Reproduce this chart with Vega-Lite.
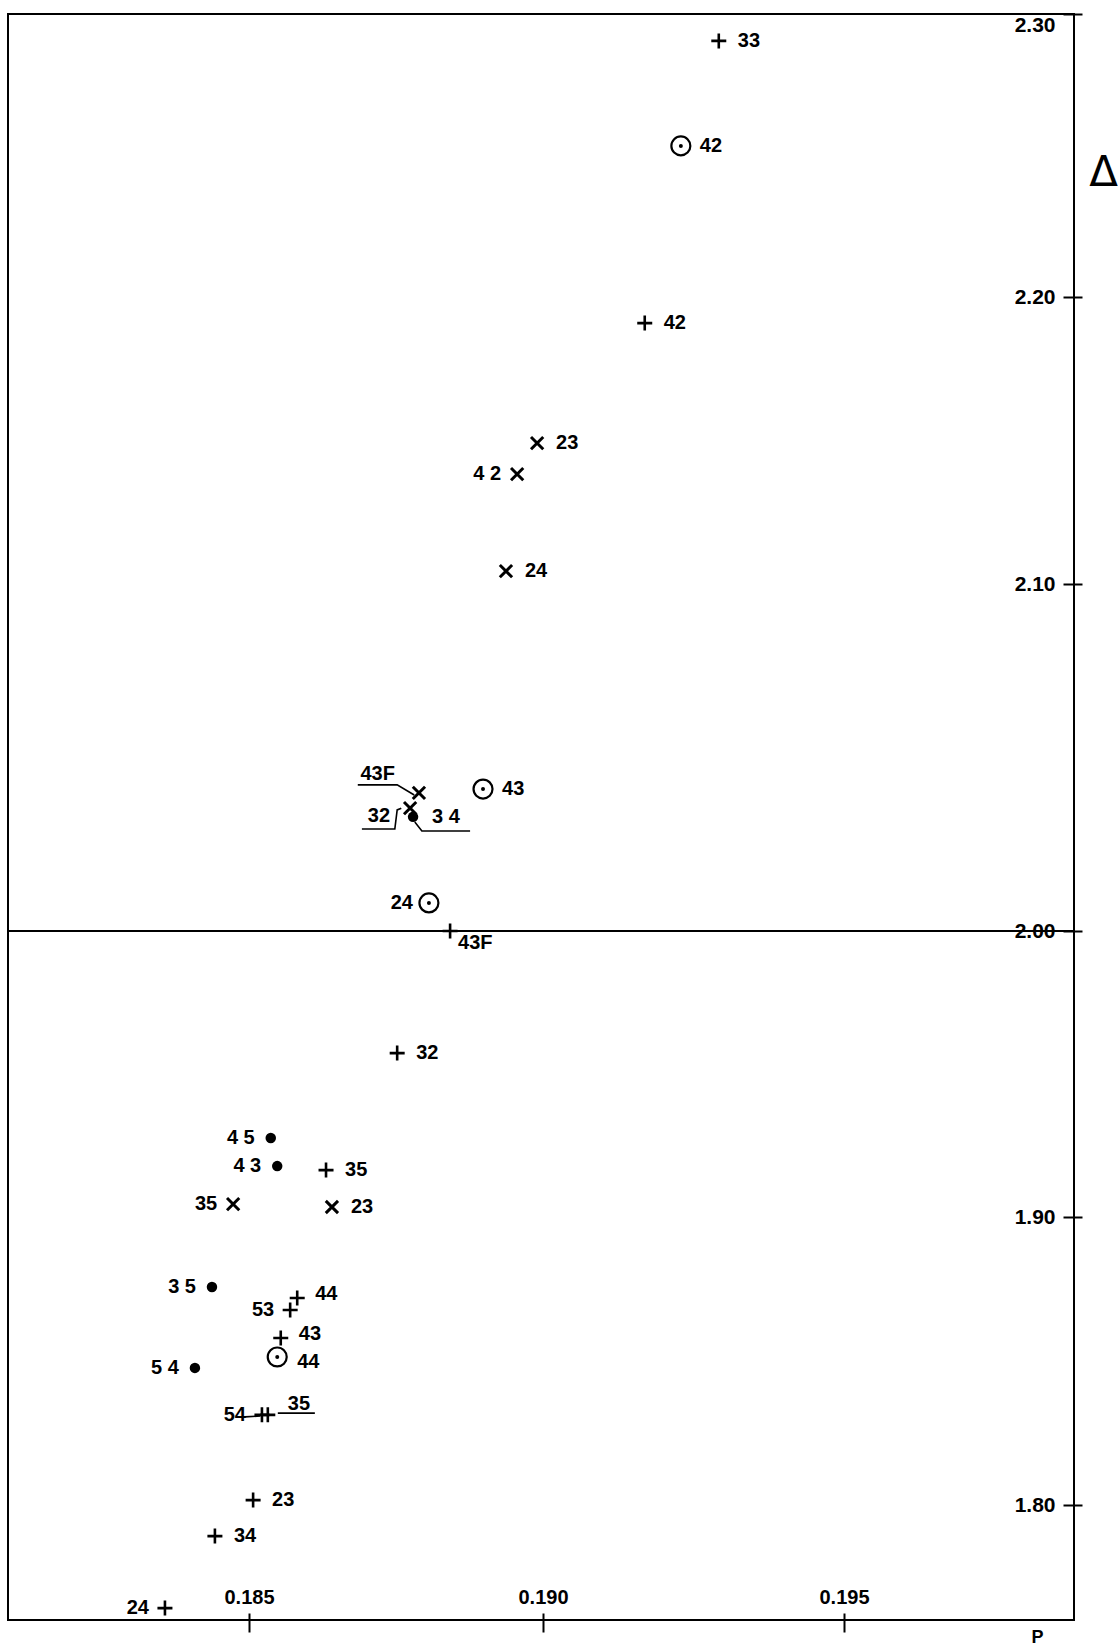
{
  "$schema": "https://vega.github.io/schema/vega-lite/v6.json",
  "width": 1066,
  "height": 1606,
  "autosize": "none",
  "padding": {"left": 8, "top": 14, "right": 44, "bottom": 28},
  "background": "white",
  "config": {
    "view": {"stroke": "black", "strokeWidth": 2},
    "text": {"font": "Liberation Sans", "fontWeight": "bold", "fontSize": 20, "color": "black", "baseline": "middle"}
  },
  "datasets": {
    "points": [
      {"P": 0.19292, "D": 2.2905, "symbol": "plus", "label": "33", "side": "right"},
      {"P": 0.19229, "D": 2.2534, "symbol": "circle", "label": "42", "side": "right"},
      {"P": 0.19169, "D": 2.1909, "symbol": "plus", "label": "42", "side": "right"},
      {"P": 0.18990, "D": 2.1491, "symbol": "cross", "label": "23", "side": "right"},
      {"P": 0.18956, "D": 2.1383, "symbol": "cross", "label": "4 2", "side": "left"},
      {"P": 0.18937, "D": 2.1045, "symbol": "cross", "label": "24", "side": "right"},
      {"P": 0.18789, "D": 2.0398, "symbol": "cross", "label": "43F", "side": "ul"},
      {"P": 0.18774, "D": 2.0354, "symbol": "cross", "label": "32", "side": "leftlow"},
      {"P": 0.18779, "D": 2.0329, "symbol": "dot", "label": "3 4", "side": "right"},
      {"P": 0.18898, "D": 2.0409, "symbol": "circle", "label": "43", "side": "right"},
      {"P": 0.18806, "D": 2.0081, "symbol": "circle", "label": "24", "side": "left"},
      {"P": 0.18842, "D": 2.0000, "symbol": "plus", "label": "43F", "side": "lr"},
      {"P": 0.18752, "D": 1.9573, "symbol": "plus", "label": "32", "side": "right"},
      {"P": 0.18537, "D": 1.9276, "symbol": "dot", "label": "4 5", "side": "left"},
      {"P": 0.18548, "D": 1.9178, "symbol": "dot", "label": "4 3", "side": "left"},
      {"P": 0.18631, "D": 1.9164, "symbol": "plus", "label": "35", "side": "right"},
      {"P": 0.18473, "D": 1.9045, "symbol": "cross", "label": "35", "side": "left"},
      {"P": 0.18641, "D": 1.9035, "symbol": "cross", "label": "23", "side": "right"},
      {"P": 0.18437, "D": 1.8757, "symbol": "dot", "label": "3 5", "side": "left"},
      {"P": 0.18582, "D": 1.8719, "symbol": "plus", "label": "44", "side": "rightup"},
      {"P": 0.18570, "D": 1.8677, "symbol": "plus", "label": "53", "side": "left"},
      {"P": 0.18554, "D": 1.8580, "symbol": "plus", "label": "43", "side": "rightup"},
      {"P": 0.18548, "D": 1.8514, "symbol": "circle", "label": "44", "side": "rightdown"},
      {"P": 0.18408, "D": 1.8476, "symbol": "dot", "label": "5 4", "side": "left"},
      {"P": 0.18522, "D": 1.8313, "symbol": "plus", "label": "54", "side": "left"},
      {"P": 0.18532, "D": 1.8313, "symbol": "plus", "label": "35", "side": "ur"},
      {"P": 0.18507, "D": 1.8017, "symbol": "plus", "label": "23", "side": "right"},
      {"P": 0.18442, "D": 1.7892, "symbol": "plus", "label": "34", "side": "right"},
      {"P": 0.18357, "D": 1.7642, "symbol": "plus", "label": "24", "side": "left"}
    ],
    "leaders": [
      {"id": "43F", "k": 1, "P": 0.18685, "D": 2.0421},
      {"id": "43F", "k": 2, "P": 0.18752, "D": 2.0421},
      {"id": "43F", "k": 3, "P": 0.18781, "D": 2.0392},
      {"id": "32", "k": 1, "P": 0.18692, "D": 2.0294},
      {"id": "32", "k": 2, "P": 0.18748, "D": 2.0294},
      {"id": "32", "k": 3, "P": 0.18752, "D": 2.0349},
      {"id": "32", "k": 4, "P": 0.18759, "D": 2.0354},
      {"id": "34", "k": 1, "P": 0.18782, "D": 2.0314},
      {"id": "34", "k": 2, "P": 0.18794, "D": 2.0288},
      {"id": "34", "k": 3, "P": 0.18876, "D": 2.0288},
      {"id": "35", "k": 1, "P": 0.18549, "D": 1.8319},
      {"id": "35", "k": 2, "P": 0.18612, "D": 1.8319},
      {"id": "54", "k": 1, "P": 0.18493, "D": 1.8306},
      {"id": "54", "k": 2, "P": 0.18519, "D": 1.8309}
    ],
    "zero": [
      {"P": 0.18090, "D": 2.0},
      {"P": 0.19882, "D": 2.0}
    ]
  },
  "encoding": {
    "x": {
      "field": "P", "type": "quantitative",
      "scale": {"domain": [0.18090, 0.185, 0.19, 0.195, 0.19882], "range": [0, 241, 535, 836, 1066], "zero": false, "nice": false},
      "axis": {
        "title": "P", "values": [0.185, 0.19, 0.195], "format": ".3f",
        "domain": false, "grid": false, "offset": -7, "tickSize": 19, "tickColor": "black", "tickWidth": 2,
        "labelPadding": -29, "labelBaseline": "alphabetic", "labelFont": "Liberation Sans", "labelFontWeight": "bold",
        "labelFontSize": 20, "labelColor": "black", "labelFlush": false,
        "titleX": 1029, "titleY": 24, "titleAlign": "center", "titleBaseline": "middle", "titleAnchor": null,
        "titleFont": "Liberation Sans", "titleFontSize": 18, "titleFontWeight": "bold", "titleColor": "black"
      }
    },
    "y": {
      "field": "D", "type": "quantitative",
      "scale": {"domain": [1.76007, 1.8, 1.9, 2.0, 2.1, 2.2, 2.3], "range": [1606, 1491, 1203, 917, 570, 283, 0], "zero": false, "nice": false},
      "axis": {
        "orient": "right", "title": "Δ", "values": [1.8, 1.9, 2.0, 2.1, 2.2, 2.3], "format": ".2f",
        "domain": false, "grid": false, "offset": -11, "tickSize": 19, "tickColor": "black", "tickWidth": 2,
        "labelPadding": -27, "labelAlign": "right", "labelFlush": true, "labelFont": "Liberation Sans", "labelFontWeight": "bold",
        "labelFontSize": 21, "labelColor": "black",
        "titleAngle": 0, "titleX": 40, "titleY": 158, "titleAlign": "center", "titleBaseline": "middle", "titleAnchor": null,
        "titleFont": "DejaVu Sans", "titleFontSize": 42, "titleFontWeight": "normal", "titleColor": "black"
      }
    }
  },
  "layer": [
    {
      "data": {"name": "zero"},
      "mark": {"type": "line", "color": "black", "strokeWidth": 2},
      "encoding": {}
    },
    {
      "data": {"name": "leaders"},
      "mark": {"type": "line", "color": "black", "strokeWidth": 1.6},
      "encoding": {"detail": {"field": "id"}, "order": {"field": "k", "type": "quantitative"}}
    },
    {
      "data": {"name": "points"},
      "transform": [{"filter": "datum.symbol === 'plus'"}],
      "mark": {"type": "point", "shape": "M-1,0L1,0M0,-1L0,1", "filled": false, "stroke": "black", "strokeWidth": 2.6, "size": 225, "opacity": 1}
    },
    {
      "data": {"name": "points"},
      "transform": [{"filter": "datum.symbol === 'cross'"}],
      "mark": {"type": "point", "shape": "M-1,-1L1,1M-1,1L1,-1", "filled": false, "stroke": "black", "strokeWidth": 3, "size": 150, "opacity": 1}
    },
    {
      "data": {"name": "points"},
      "transform": [{"filter": "datum.symbol === 'dot'"}],
      "mark": {"type": "point", "shape": "circle", "filled": true, "color": "black", "size": 110, "opacity": 1}
    },
    {
      "data": {"name": "points"},
      "transform": [{"filter": "datum.symbol === 'circle'"}],
      "mark": {"type": "point", "shape": "circle", "filled": false, "stroke": "black", "strokeWidth": 2.2, "size": 360, "opacity": 1}
    },
    {
      "data": {"name": "points"},
      "transform": [{"filter": "datum.symbol === 'circle'"}],
      "mark": {"type": "point", "shape": "circle", "filled": true, "color": "black", "size": 16, "opacity": 1}
    },
    {
      "data": {"name": "points"},
      "transform": [{"filter": "datum.side === 'right'"}],
      "mark": {"type": "text", "align": "left", "dx": 19},
      "encoding": {"text": {"field": "label"}}
    },
    {
      "data": {"name": "points"},
      "transform": [{"filter": "datum.side === 'rightup'"}],
      "mark": {"type": "text", "align": "left", "dx": 18, "dy": -4},
      "encoding": {"text": {"field": "label"}}
    },
    {
      "data": {"name": "points"},
      "transform": [{"filter": "datum.side === 'rightdown'"}],
      "mark": {"type": "text", "align": "left", "dx": 20, "dy": 5},
      "encoding": {"text": {"field": "label"}}
    },
    {
      "data": {"name": "points"},
      "transform": [{"filter": "datum.side === 'left'"}],
      "mark": {"type": "text", "align": "right", "dx": -16},
      "encoding": {"text": {"field": "label"}}
    },
    {
      "data": {"name": "points"},
      "transform": [{"filter": "datum.side === 'ul'"}],
      "mark": {"type": "text", "align": "right", "dx": -24, "dy": -19},
      "encoding": {"text": {"field": "label"}}
    },
    {
      "data": {"name": "points"},
      "transform": [{"filter": "datum.side === 'leftlow'"}],
      "mark": {"type": "text", "align": "right", "dx": -20, "dy": 8},
      "encoding": {"text": {"field": "label"}}
    },
    {
      "data": {"name": "points"},
      "transform": [{"filter": "datum.side === 'lr'"}],
      "mark": {"type": "text", "align": "left", "dx": 8, "dy": 12},
      "encoding": {"text": {"field": "label"}}
    },
    {
      "data": {"name": "points"},
      "transform": [{"filter": "datum.side === 'ur'"}],
      "mark": {"type": "text", "align": "left", "dx": 20, "dy": -11},
      "encoding": {"text": {"field": "label"}}
    }
  ]
}
